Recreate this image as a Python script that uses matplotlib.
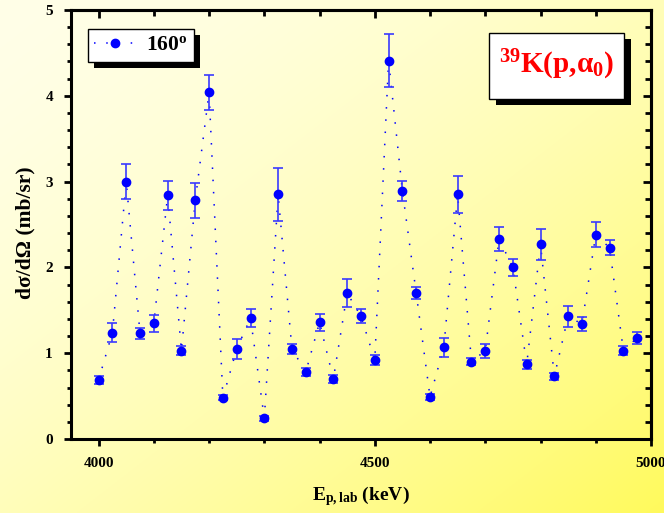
import numpy as np
import matplotlib
matplotlib.use("Agg")
import matplotlib.pyplot as plt
from matplotlib.patches import Rectangle
from matplotlib.lines import Line2D
from matplotlib.ticker import MultipleLocator

plt.rcParams['font.family'] = ['Liberation Serif', 'DejaVu Serif']
plt.rcParams['font.weight'] = 'bold'
plt.rcParams['mathtext.fontset'] = 'custom'
plt.rcParams['mathtext.rm'] = 'Liberation Serif:bold'
plt.rcParams['mathtext.bf'] = 'Liberation Serif:bold'
plt.rcParams['mathtext.it'] = 'Liberation Serif:bold'

# excitation function, 39K(p,alpha0) at 160 deg
energy = [4000, 4025, 4050, 4075, 4100, 4125, 4150, 4175, 4200, 4225,
          4250, 4275, 4300, 4325, 4350, 4375, 4400, 4425, 4450, 4475,
          4500, 4525, 4550, 4575, 4600, 4625, 4650, 4675, 4700, 4725,
          4750, 4775, 4800, 4825, 4850, 4875, 4900, 4925, 4950, 4975]
xsec = [0.69, 1.24, 3.00, 1.23, 1.35, 2.84, 1.03, 2.78, 4.04, 0.48,
        1.05, 1.41, 0.24, 2.85, 1.05, 0.78, 1.36, 0.70, 1.70, 1.43,
        0.92, 4.41, 2.89, 1.70, 0.49, 1.07, 2.85, 0.90, 1.03, 2.33,
        2.00, 0.87, 2.27, 0.73, 1.43, 1.34, 2.38, 2.23, 1.03, 1.18]
xsec_err = [0.05, 0.11, 0.20, 0.06, 0.10, 0.17, 0.05, 0.20, 0.20, 0.03,
            0.115, 0.10, 0.03, 0.31, 0.06, 0.05, 0.10, 0.05, 0.16, 0.08,
            0.06, 0.31, 0.12, 0.07, 0.04, 0.11, 0.21, 0.04, 0.08, 0.14,
            0.10, 0.05, 0.18, 0.04, 0.12, 0.085, 0.145, 0.09, 0.055, 0.07]

fig = plt.figure(figsize=(6.64, 5.13), dpi=100)

# yellow background, light in the upper left, strong in the lower right
bg = fig.add_axes([0, 0, 1, 1], zorder=-10)
gx, gy = np.meshgrid(np.linspace(0, 1, 300), np.linspace(0, 1, 300))
t = np.clip((gx + gy) / 2, 0, 1) ** 1.6
img = np.zeros((300, 300, 3))
img[..., 0] = 1.0
img[..., 1] = 1.0 - 0.02 * t
img[..., 2] = (232 - 140 * t) / 255
bg.imshow(img, aspect='auto', extent=[0, 1, 0, 1], origin='upper')
bg.axis('off')

ax = fig.add_axes([0.1069, 0.1442, 0.8735, 0.8363])
ax.set_facecolor('none')

ax.plot(energy, xsec, color='#0000ff', linestyle=(0, (1, 7)), linewidth=1.1, zorder=2)
ax.errorbar(energy, xsec, yerr=xsec_err, fmt='none', ecolor='#3a3aff',
            elinewidth=1.2, capsize=3.5, capthick=1.2, zorder=3)
ax.plot(energy, xsec, 'o', color='#0000ff', markersize=6, zorder=4)

ax.set_xlim(3950, 5000)
ax.set_ylim(0, 5)
ax.xaxis.set_major_locator(MultipleLocator(500))
ax.xaxis.set_minor_locator(MultipleLocator(100))
ax.yaxis.set_major_locator(MultipleLocator(1))
ax.yaxis.set_minor_locator(MultipleLocator(0.2))
ax.tick_params(which='major', direction='out', length=5, width=2, labelsize=11, pad=8)
ax.tick_params(which='minor', direction='out', length=3, width=2)
for s in ax.spines.values():
    s.set_linewidth(2.2)

top = ax.secondary_xaxis('top')
top.xaxis.set_major_locator(MultipleLocator(500))
top.xaxis.set_minor_locator(MultipleLocator(100))
top.tick_params(which='major', direction='in', length=6, width=2, labeltop=False)
top.tick_params(which='minor', direction='in', length=4, width=2)
right = ax.secondary_yaxis('right')
right.yaxis.set_major_locator(MultipleLocator(1))
right.yaxis.set_minor_locator(MultipleLocator(0.2))
right.tick_params(which='major', direction='in', length=6, width=2, labelright=False)
right.tick_params(which='minor', direction='in', length=4, width=2)
for sec in (top, right):
    for s in sec.spines.values():
        s.set_linewidth(2.2)

ax.set_xlabel(r'E$_{\mathregular{p,lab}}$ (keV)', fontsize=14, fontweight='bold', labelpad=10)
ax.set_ylabel('dσ/dΩ (mb/sr)', fontsize=15.5, fontweight='bold')
ax.yaxis.set_label_coords(-0.062, 0.48)

handle = Line2D([], [], color='#0000ff', linestyle=(0, (1, 7)), linewidth=1.1,
                marker='o', markersize=6)
leg = ax.legend([handle], [r'160$^{\mathregular{o}}$'], loc='upper left',
                bbox_to_anchor=(0.029, 0.956), borderaxespad=0, fancybox=False,
                framealpha=1, edgecolor='black', handlelength=1.9,
                prop={'size': 15.5, 'weight': 'bold'}, borderpad=0.3,
                handletextpad=0.5)
leg.get_frame().set_linewidth(1.0)
leg.set_zorder(10)

# reaction label with drop shadow
ax.add_patch(Rectangle((0.7327, 0.7785), 0.2328, 0.1538, transform=ax.transAxes,
                       facecolor='black', edgecolor='none', zorder=8))
ax.add_patch(Rectangle((0.7207, 0.7925), 0.2328, 0.1538, transform=ax.transAxes,
                       facecolor='white', edgecolor='black', linewidth=1.0, zorder=9))
ax.text(0.837, 0.872, r'$^{39}$K(p,$\mathregular{\alpha_0}$)', transform=ax.transAxes,
        ha='center', va='center', color='red', fontsize=21, fontweight='bold', zorder=10)

# shadow under the legend box
fig.canvas.draw()
bb = leg.get_window_extent().transformed(ax.transAxes.inverted())
dx, dy = ax.transAxes.inverted().transform((6, 6)) - ax.transAxes.inverted().transform((0, 0))
ax.add_patch(Rectangle((bb.x0 + dx, bb.y0 - dy), bb.width, bb.height,
                       transform=ax.transAxes, facecolor='black', edgecolor='none',
                       zorder=9))

fig.savefig('out.png', dpi=100)
